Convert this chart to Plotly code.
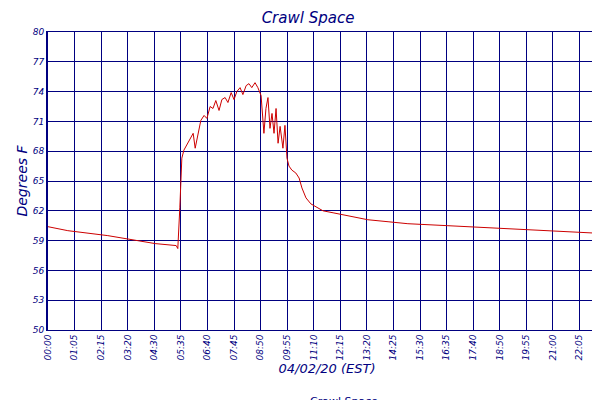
import plotly.graph_objects as go

minutes = [0,49,148,265,317,321,326,331,336,346,354,359,364,371,378,386,393,401,408,415,423,430,438,445,453,460,467,475,482,490,497,504,512,519,527,534,539,544,549,554,559,564,569,574,581,586,591,596,603,613,621,628,638,650,663,680,705,742,791,841,890,989,1088,1187,1286,1380]
temps = [60.4,60.0,59.5,58.7,58.5,58.2,62.3,67.3,68.1,68.8,69.5,69.8,68.3,69.8,71.1,71.6,71.3,72.5,72.3,73.1,72.1,73.2,73.4,72.9,73.9,73.2,74.0,74.4,73.7,74.6,74.8,74.4,74.9,74.4,73.6,69.8,72.3,73.4,70.3,71.8,69.8,72.3,68.8,70.5,68.3,70.6,67.3,66.5,66.1,65.8,65.3,64.3,63.3,62.7,62.4,62.0,61.8,61.5,61.1,60.9,60.7,60.5,60.3,60.1,59.9,59.7]
tick_labels = ["00:00","01:05","02:15","03:20","04:30","05:35","06:40","07:45","08:50","09:55","11:10","12:15","13:20","14:25","15:30","16:35","17:40","18:50","19:55","21:00","22:05","23:00"]
y_ticks = [50,53,56,59,62,65,68,71,74,77,80]

navy = "#000080"
tickvals = [1380*i/(len(tick_labels)-1) for i in range(len(tick_labels))]
fnt = dict(family="DejaVu Sans", color=navy)

fig = go.Figure(go.Scatter(x=minutes, y=temps, mode="lines", name="Crawl Space",
                           line=dict(color="#cc0000", width=1)))
fig.update_layout(
    width=600, height=400, paper_bgcolor="white", plot_bgcolor="white",
    margin=dict(l=40, r=2, t=24, b=78, autoexpand=False),
    title=dict(text="<i>Crawl Space</i>", x=0.5, xanchor="center", y=0.99, yanchor="top",
               font=dict(family="DejaVu Sans", size=15, color=navy)),
    showlegend=True,
    legend=dict(orientation="h", x=0.5, xanchor="center", y=-0.19, yanchor="top",
                font=dict(family="DejaVu Sans", size=11, color=navy)),
)
fig.update_xaxes(range=[0,1380], tickvals=tickvals, ticktext=[f"<i>{t}</i>" for t in tick_labels],
                 tickangle=-90, tickfont=dict(size=9, **fnt), showgrid=True, gridcolor=navy, gridwidth=1,
                 showline=True, linecolor=navy, mirror=True, linewidth=1, zeroline=False, automargin=False,
                 title=dict(text="<i>04/02/20 (EST)</i>", font=dict(size=13, **fnt), standoff=4))
fig.update_yaxes(range=[50,80], tickvals=y_ticks, ticktext=[f"<i>{v}</i>" for v in y_ticks],
                 tickfont=dict(size=9, **fnt), showgrid=True, gridcolor=navy, gridwidth=1,
                 showline=True, linecolor=navy, mirror=True, linewidth=2, zeroline=False, automargin=False,
                 title=dict(text="<i>Degrees F</i>", font=dict(size=14, **fnt), standoff=2))
fig.write_html("out.html")
